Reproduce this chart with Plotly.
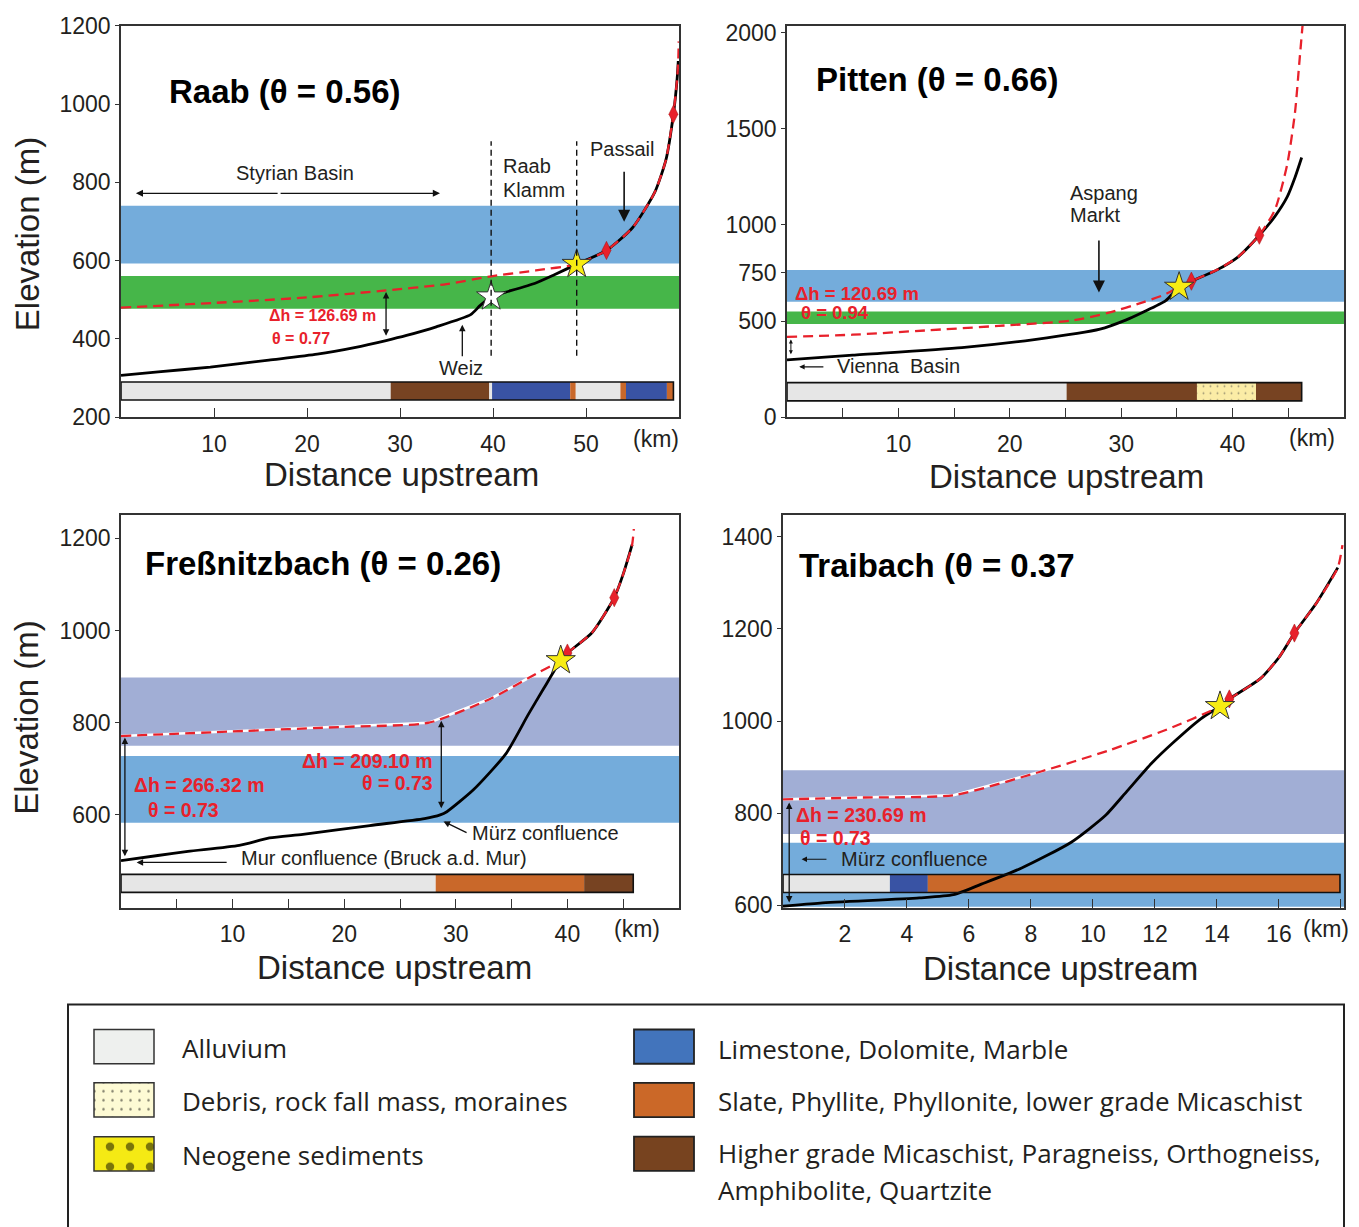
import plotly.graph_objects as go

W, H = 1359, 1227

# ---------------- Raab ----------------
RAAB_KM = [0, 4, 9.6, 15.9, 21.1, 25.1, 28.5, 30.7, 33.9, 37.6, 38.6, 39.8, 41, 44.6, 46.6, 49, 52.2, 55, 57.4, 58.6, 59.4, 59.8, 59.92]
RAAB_ELEV = [307, 316, 328, 346, 361, 378, 396, 409, 431, 462, 485, 508, 517, 543, 564, 591, 626, 684, 775, 858, 974, 1065, 1110]
RAAB_PROJ_KM = [0, 10, 20, 28.5, 34.7, 39.8, 44.6, 49]
RAAB_PROJ_ELEV = [480, 492, 506, 524, 539, 560, 575, 591]
RAAB_TOP_KM = [59.97]
RAAB_TOP_ELEV = [1160]
RAAB_STAR = [49, 591]
RAAB_WHITE_STAR = [39.8, 508]
RAAB_DIAMOND_KM = [52.2, 59.4]
RAAB_DIAMOND_ELEV = [626, 974]
RAAB_BANDS = [[593, 740, "#74acdb"], [477, 561, "#46b649"]]
RAAB_LITHO_START = [0, 29, 39.6, 39.9, 48.3, 48.9, 53.7, 54.3, 58.7]
RAAB_LITHO_END = [29, 39.6, 39.9, 48.3, 48.9, 53.7, 54.3, 58.7, 59.4]
RAAB_LITHO_TYPE = ["alluvium", "higher", "alluvium", "limestone", "slate", "alluvium", "slate", "limestone", "slate"]
RAAB_LITHO_Y = [244, 290]

# ---------------- Pitten ----------------
PITTEN_KM = [0, 5.9, 15.7, 22.2, 28.1, 30.4, 32, 34, 35.2, 36.3, 38.6, 40.5, 42.4, 43.8, 44.9, 45.6, 46.2]
PITTEN_ELEV = [298, 323, 362, 404, 458, 505, 547, 606, 677, 707, 766, 834, 946, 1044, 1145, 1246, 1350]
PITTEN_PROJ_KM = [0, 5.9, 12.4, 19, 25.5, 28.8, 32, 34, 35.2]
PITTEN_PROJ_ELEV = [418, 429, 451, 475, 502, 542, 598, 640, 677]
PITTEN_TOP_KM = [43.8, 44.9, 45.6, 46.0, 46.3]
PITTEN_TOP_ELEV = [1078, 1313, 1583, 1850, 2050]
PITTEN_STAR = [35.2, 677]
PITTEN_DIAMOND_KM = [36.3, 42.4]
PITTEN_DIAMOND_ELEV = [707, 946]
PITTEN_BANDS = [[600, 765, "#74acdb"], [485, 550, "#46b649"]]
PITTEN_LITHO_START = [0, 25.1, 36.8, 42.1]
PITTEN_LITHO_END = [25.1, 36.8, 42.1, 46.2]
PITTEN_LITHO_TYPE = ["alluvium", "higher", "debris", "higher"]
PITTEN_LITHO_Y = [85, 180]

# ---------------- Fressnitzbach ----------------
FRESS_KM = [0, 3.3, 6, 10.6, 13.3, 16.3, 22.3, 27.2, 28.6, 29.2, 31.6, 34.5, 36.5, 37.9, 39.4, 40, 42.2, 44.2, 45, 45.8]
FRESS_ELEV = [501, 512, 521, 534, 550, 558, 577, 592, 600, 607, 655, 733, 818, 875, 935, 951, 995, 1071, 1122, 1186]
FRESS_PROJ_KM = [0, 10, 20, 27.6, 33.2, 37.5, 39.4]
FRESS_PROJ_ELEV = [771, 781, 791, 800, 853, 910, 935]
FRESS_TOP_KM = [45.95]
FRESS_TOP_ELEV = [1220]
FRESS_STAR = [39.4, 935]
FRESS_DIAMOND_KM = [40, 44.2]
FRESS_DIAMOND_ELEV = [951, 1071]
FRESS_BANDS = [[750, 898, "#a1aed5"], [583, 728, "#74acdb"]]
FRESS_LITHO_START = [0, 28.2, 41.5]
FRESS_LITHO_END = [28.2, 41.5, 45.9]
FRESS_LITHO_TYPE = ["alluvium", "slate", "higher"]
FRESS_LITHO_Y = [432, 471]

# ---------------- Traibach ----------------
TRAI_KM = [0, 1.2, 4.4, 5.5, 6.4, 7.7, 9.3, 10.4, 11.1, 11.9, 12.6, 13.5, 14.1, 14.4, 15.4, 16, 16.5, 17.2, 17.9]
TRAI_ELEV = [598, 605, 616, 623, 646, 681, 737, 795, 848, 909, 954, 1006, 1032, 1048, 1092, 1138, 1191, 1255, 1333]
TRAI_PROJ_KM = [0, 2.5, 5.5, 8.3, 10.5, 12.4, 14.1]
TRAI_PROJ_ELEV = [830, 834, 839, 890, 936, 982, 1032]
TRAI_TOP_KM = [18.05]
TRAI_TOP_ELEV = [1382]
TRAI_STAR = [14.1, 1032]
TRAI_DIAMOND_KM = [14.4, 16.5]
TRAI_DIAMOND_ELEV = [1048, 1191]
TRAI_BANDS = [[755, 893, "#a1aed5"], [597, 736, "#74acdb"]]
TRAI_LITHO_START = [0, 3.45, 4.67]
TRAI_LITHO_END = [3.45, 4.67, 17.97]
TRAI_LITHO_TYPE = ["alluvium", "limestone", "slate"]
TRAI_LITHO_Y = [628, 667]

# ---------------- legend ----------------
LEGEND_LEFT = ["Alluvium", "Debris, rock fall mass, moraines", "Neogene sediments"]
LEGEND_RIGHT = ["Limestone, Dolomite, Marble", "Slate, Phyllite, Phyllonite, lower grade Micaschist",
                "Higher grade Micaschist, Paragneiss, Orthogneiss,", "Amphibolite, Quartzite"]

LITHO_COLORS = {"alluvium": "#e6e6e6", "higher": "#774322", "limestone": "#3953a4",
                "slate": "#c9682a", "debris": "#fbeca6"}

SANS = "Liberation Sans, Arial, Helvetica, sans-serif"
REDFONT = "Liberation Sans, Arial, sans-serif"
LEGFONT = "Open Sans, Noto Sans, sans-serif"
RED = "#e8212b"
TXT = "#231f20"

fig = go.Figure()


def refs(i):
    return ("x" if i == 1 else f"x{i}"), ("y" if i == 1 else f"y{i}")


def add_text(i, x, y, text, size=20, color=TXT, xanchor="center", family=SANS):
    xr, yr = refs(i)
    fig.add_annotation(x=x, y=y, xref=xr, yref=yr, text=text, showarrow=False,
                       xanchor=xanchor, yanchor="middle",
                       font=dict(family=family, size=size, color=color))


def add_arrow(i, x0, y0, x1, y1, both=False, head=2, size=1.0, width=1.3):
    xr, yr = refs(i)
    fig.add_annotation(x=x1, y=y1, ax=x0, ay=y0, xref=xr, yref=yr, axref=xr, ayref=yr,
                       text="", showarrow=True, arrowhead=head, arrowsize=size,
                       arrowwidth=width, arrowcolor="#111",
                       arrowside="end+start" if both else "end")


def panel(i, km, elev, pkm, pel, tkm, tel, star, dkm, del_, bands, ls, le, lt, ly,
          join_km, white=False):
    xr, yr = refs(i)
    for lo, hi, col in bands:
        fig.add_shape(type="rect", xref=f"{xr} domain", yref=yr, x0=0, x1=1, y0=lo, y1=hi,
                      fillcolor=col, line_width=0, layer="below")
    # lithology bar
    fig.add_trace(go.Bar(orientation="h", y=[(ly[0] + ly[1]) / 2] * len(ls),
                         x=[e - s for s, e in zip(ls, le)], base=ls,
                         width=[ly[1] - ly[0]] * len(ls),
                         marker=dict(color=[LITHO_COLORS[t] for t in lt], line_width=0,
                                     pattern=dict(shape=["." if t == "debris" else "" for t in lt],
                                                  fgcolor="#333", size=7, solidity=0.06,
                                                  fillmode="overlay")),
                         xaxis=xr, yaxis=yr, hoverinfo="skip", showlegend=False))
    fig.add_shape(type="rect", xref=xr, yref=yr, x0=min(ls), x1=max(le), y0=ly[0], y1=ly[1],
                  line=dict(color="#111", width=1.6), fillcolor="rgba(0,0,0,0)")
    # projected profile
    rx = list(pkm) + [k for k in km if star[0] < k <= join_km] + list(tkm)
    ry = list(pel) + [e for k, e in zip(km, elev) if star[0] < k <= join_km] + list(tel)
    if white:
        fig.add_trace(go.Scatter(x=pkm, y=pel, mode="lines", line=dict(color="white", width=2.6),
                                 xaxis=xr, yaxis=yr, hoverinfo="skip", showlegend=False))
    fig.add_trace(go.Scatter(x=km, y=elev, mode="lines",
                             line=dict(color="black", width=2.8, shape="spline", smoothing=0.6),
                             xaxis=xr, yaxis=yr, hoverinfo="skip", showlegend=False))
    fig.add_trace(go.Scatter(x=rx, y=ry, mode="lines",
                             line=dict(color=RED, width=2.3, dash="10px,6px", shape="spline", smoothing=0.6),
                             xaxis=xr, yaxis=yr, hoverinfo="skip", showlegend=False))
    fig.add_trace(go.Scatter(x=dkm, y=del_, mode="markers",
                             marker=dict(symbol="diamond-tall", size=13, color=RED,
                                         line=dict(color="#a01010", width=0.5)),
                             xaxis=xr, yaxis=yr, hoverinfo="skip", showlegend=False))
    fig.add_trace(go.Scatter(x=[star[0]], y=[star[1]], mode="markers",
                             marker=dict(symbol="star", size=22, color="#f7ec13",
                                         line=dict(color="#333", width=1)),
                             xaxis=xr, yaxis=yr, hoverinfo="skip", showlegend=False))


panel(1, RAAB_KM, RAAB_ELEV, RAAB_PROJ_KM, RAAB_PROJ_ELEV, RAAB_TOP_KM, RAAB_TOP_ELEV, RAAB_STAR,
      RAAB_DIAMOND_KM, RAAB_DIAMOND_ELEV, RAAB_BANDS, RAAB_LITHO_START, RAAB_LITHO_END,
      RAAB_LITHO_TYPE, RAAB_LITHO_Y, 60)
fig.add_trace(go.Scatter(x=[RAAB_WHITE_STAR[0]], y=[RAAB_WHITE_STAR[1]], mode="markers",
                         marker=dict(symbol="star", size=22, color="white", line=dict(color="#333", width=1)),
                         xaxis="x", yaxis="y", hoverinfo="skip", showlegend=False))
panel(2, PITTEN_KM, PITTEN_ELEV, PITTEN_PROJ_KM, PITTEN_PROJ_ELEV, PITTEN_TOP_KM, PITTEN_TOP_ELEV,
      PITTEN_STAR, PITTEN_DIAMOND_KM, PITTEN_DIAMOND_ELEV, PITTEN_BANDS, PITTEN_LITHO_START,
      PITTEN_LITHO_END, PITTEN_LITHO_TYPE, PITTEN_LITHO_Y, 42.4)
panel(3, FRESS_KM, FRESS_ELEV, FRESS_PROJ_KM, FRESS_PROJ_ELEV, FRESS_TOP_KM, FRESS_TOP_ELEV,
      FRESS_STAR, FRESS_DIAMOND_KM, FRESS_DIAMOND_ELEV, FRESS_BANDS, FRESS_LITHO_START,
      FRESS_LITHO_END, FRESS_LITHO_TYPE, FRESS_LITHO_Y, 50, white=True)
panel(4, TRAI_KM, TRAI_ELEV, TRAI_PROJ_KM, TRAI_PROJ_ELEV, TRAI_TOP_KM, TRAI_TOP_ELEV,
      TRAI_STAR, TRAI_DIAMOND_KM, TRAI_DIAMOND_ELEV, TRAI_BANDS, TRAI_LITHO_START,
      TRAI_LITHO_END, TRAI_LITHO_TYPE, TRAI_LITHO_Y, 20, white=True)

# ---------------- Raab annotations ----------------
add_text(1, 4.9, 1031, "<b>Raab (θ = 0.56)</b>", size=33, color="black", xanchor="left")
add_text(1, 18.7, 823, "Styrian Basin")
add_arrow(1, 17, 772, 1.6, 772, head=2, size=1.1)
add_arrow(1, 17, 772, 34.3, 772, head=2, size=1.1)
add_text(1, 40.9, 841, "Raab", xanchor="left")
add_text(1, 40.9, 781, "Klamm", xanchor="left")
add_text(1, 53.9, 885, "Passail")
add_arrow(1, 54.1, 831, 54.1, 699, head=2, size=1.5, width=1.6)
add_text(1, 36.6, 325, "Weiz")
add_arrow(1, 36.7, 352, 36.7, 436, head=2, size=1.0)
for xv in [39.8, 49]:
    fig.add_shape(type="line", xref="x", yref="y", x0=xv, x1=xv, y0=357, y1=905,
                  line=dict(color="#111", width=1.4, dash="6px,4px"))
add_arrow(1, 28.5, 404, 28.5, 520, both=True, head=2, size=1.0)
add_text(1, 27.6, 461, "<b>Δh = 126.69 m</b>", size=16, color=RED, xanchor="right", family=REDFONT)
add_text(1, 16.0, 402, "<b>θ = 0.77</b>", size=16, color=RED, xanchor="left", family=REDFONT)

# ---------------- Pitten annotations ----------------
add_text(2, 2.4, 1754, "<b>Pitten (θ = 0.66)</b>", size=33, color="black", xanchor="left")
add_text(2, 25.2, 1166, "Aspang", xanchor="left")
add_text(2, 25.2, 1049, "Markt", xanchor="left")
add_arrow(2, 28.0, 926, 28.0, 648, head=2, size=1.5, width=1.6)
add_text(2, 0.5, 645, "<b>Δh = 120.69 m</b>", size=18.5, color=RED, xanchor="left", family=REDFONT)
add_text(2, 1.1, 542, "<b>θ = 0.94</b>", size=18.5, color=RED, xanchor="left", family=REDFONT)
add_arrow(2, 0.35, 320, 0.35, 404, both=True, head=2, size=0.8, width=1.0)
add_arrow(2, 3.4, 262, 1.1, 262, head=2, size=0.9, width=1.2)
add_text(2, 4.3, 265, "Vienna  Basin", xanchor="left")

# ---------------- Fressnitzbach annotations ----------------
add_text(3, 2.0, 1146, "<b>Freßnitzbach (θ = 0.26)</b>", size=33, color="black", xanchor="left")
add_text(3, 28.1, 716, "<b>Δh = 209.10 m</b>", size=19.5, color=RED, xanchor="right", family=REDFONT)
add_text(3, 28.1, 669, "<b>θ = 0.73</b>", size=19.5, color=RED, xanchor="right", family=REDFONT)
add_arrow(3, 28.7, 611, 28.7, 804, both=True, head=2, size=1.0)
add_text(3, 1.0, 665, "<b>Δh = 266.32 m</b>", size=19.5, color=RED, xanchor="left", family=REDFONT)
add_text(3, 2.2, 610, "<b>θ = 0.73</b>", size=19.5, color=RED, xanchor="left", family=REDFONT)
add_arrow(3, 0.35, 507, 0.35, 768, both=True, head=2, size=1.0)
add_text(3, 31.3, 561, "Mürz confluence", xanchor="left")
add_arrow(3, 31.1, 560, 28.9, 586, head=2, size=1.0)
add_text(3, 10.6, 506, "Mur confluence (Bruck a.d. Mur)", xanchor="left")
add_arrow(3, 9.6, 497, 1.4, 497, head=2, size=1.0)

# ---------------- Traibach annotations ----------------
add_text(4, 0.45, 1338, "<b>Traibach (θ = 0.37</b>", size=33, color="black", xanchor="left")
add_text(4, 0.35, 796, "<b>Δh = 230.69 m</b>", size=19.5, color=RED, xanchor="left", family=REDFONT)
add_text(4, 0.5, 747, "<b>θ = 0.73</b>", size=19.5, color=RED, xanchor="left", family=REDFONT)
add_arrow(4, 0.2, 603, 0.2, 823, both=True, head=2, size=1.0)
add_arrow(4, 1.45, 700, 0.6, 700, head=2, size=0.9, width=1.2)
add_text(4, 1.8, 700, "Mürz confluence", xanchor="left")

# ---------------- axis titles / (km) ----------------
for xp, yp in [(401, 472), (1066, 474), (394, 975), (1060, 976)]:
    fig.add_annotation(x=xp / W, y=1 - yp / H, xref="paper", yref="paper", text="Distance upstream",
                       showarrow=False, xanchor="center", yanchor="middle",
                       font=dict(family=SANS, size=33, color=TXT))
for yp in [226, 720]:
    fig.add_annotation(x=27 / W, y=1 - yp / H, xref="paper", yref="paper", text="Elevation (m)",
                       showarrow=False, textangle=-90, xanchor="center", yanchor="middle",
                       font=dict(family=SANS, size=33, color=TXT))
for xp, yp in [(656, 435), (1312, 434), (637, 936), (1326, 936)]:
    fig.add_annotation(x=xp / W, y=1 - yp / H, xref="paper", yref="paper", text="(km)",
                       showarrow=False, xanchor="center", yanchor="middle",
                       font=dict(family=SANS, size=23, color=TXT))

# ---------------- legend ----------------
fig.add_shape(type="rect", xref="paper", yref="paper", x0=68 / W, x1=1344 / W, y0=-0.02,
              y1=1 - 1013 / H, line=dict(color="#222", width=2), fillcolor="rgba(0,0,0,0)")
LEG_ROWS = [1056, 1110.5, 1165.5]
LEG_LEFT_COLORS = ["#eef0ee", "#fdfad4", "#f5ea14"]
LEG_RIGHT_COLORS = ["#4274bc", "#cb6828", "#77431f"]
LEG_LEFT_PAT = [("", 8, 0.1), (".", 9, 0.06), (".", 20, 0.14)]
for j, yc in enumerate(LEG_ROWS):
    shp, sz, sol = LEG_LEFT_PAT[j]
    fig.add_trace(go.Bar(orientation="h", y=[yc], x=[60], base=[94], width=[35],
                         marker=dict(color=LEG_LEFT_COLORS[j], line=dict(color="#333", width=1.5),
                                     pattern=dict(shape=shp, fgcolor="black", size=sz, solidity=sol,
                                                  fillmode="overlay")),
                         xaxis="x5", yaxis="y5", hoverinfo="skip", showlegend=False))
    fig.add_trace(go.Bar(orientation="h", y=[yc], x=[60], base=[634], width=[35],
                         marker=dict(color=LEG_RIGHT_COLORS[j], line=dict(color="#222", width=1.8)),
                         xaxis="x5", yaxis="y5", hoverinfo="skip", showlegend=False))
    fig.add_annotation(x=180, y=yc + 1, xref="x5", yref="y5", text=LEGEND_LEFT[j], showarrow=False,
                       xanchor="left", yanchor="middle", font=dict(family=LEGFONT, size=26, color=TXT))
for j, yc in enumerate([1058, 1112, 1165, 1202]):
    fig.add_annotation(x=716, y=yc, xref="x5", yref="y5", text=LEGEND_RIGHT[j], showarrow=False,
                       xanchor="left", yanchor="middle", font=dict(family=LEGFONT, size=26, color=TXT))


# ---------------- axes ----------------
def xcfg(d0, d1, rng, tv, tt, anchor):
    return dict(domain=[d0 / W, d1 / W], range=rng, anchor=anchor, tickmode="array", tickvals=tv,
                ticktext=tt, ticks="inside", ticklen=9, tickwidth=1.2, tickcolor="#333",
                showline=True, linecolor="#333", linewidth=1.6, mirror=True, showgrid=False,
                zeroline=False, tickfont=dict(family=SANS, size=23, color=TXT), ticklabelstandoff=5,
                fixedrange=True)


def ycfg(top, bot, rng, tv, anchor):
    return dict(domain=[1 - bot / H, 1 - top / H], range=rng, anchor=anchor, tickmode="array",
                tickvals=tv, ticks="outside", ticklen=4, tickwidth=1.2, tickcolor="#333",
                showline=True, linecolor="#333", linewidth=1.6, mirror=True, showgrid=False,
                zeroline=False, tickfont=dict(family=SANS, size=23, color=TXT), fixedrange=True)


fig.update_layout(
    width=W, height=H, margin=dict(l=0, r=0, t=0, b=0), paper_bgcolor="white",
    plot_bgcolor="white", barmode="overlay", showlegend=False,
    xaxis=xcfg(121, 679, [0, 60], [10, 20, 30, 40, 50], ["10", "20", "30", "40", "50"], "y"),
    yaxis=ycfg(13, 413, [200, 1200], [200, 400, 600, 800, 1000, 1200], "x"),
    xaxis2=xcfg(787, 1344, [0, 50], [5, 10, 15, 20, 25, 30, 35, 40, 45],
                ["", "10", "", "20", "", "30", "", "40", ""], "y2"),
    yaxis2=ycfg(13, 413, [0, 2035], [0, 500, 750, 1000, 1500, 2000], "x2"),
    xaxis3=xcfg(121, 679, [0, 50], [5, 10, 15, 20, 25, 30, 35, 40, 45],
                ["", "10", "", "20", "", "30", "", "40", ""], "y3"),
    yaxis3=ycfg(513, 914, [399, 1250], [600, 800, 1000, 1200], "x3"),
    xaxis4=xcfg(783, 1344, [0, 18.1], [2, 4, 6, 8, 10, 12, 14, 16, 18],
                ["2", "4", "6", "8", "10", "12", "14", "16", ""], "y4"),
    yaxis4=ycfg(513, 914, [595, 1447], [600, 800, 1000, 1200, 1400], "x4"),
    xaxis5=dict(domain=[0, 1], range=[0, W], visible=False, anchor="y5", fixedrange=True),
    yaxis5=dict(domain=[0, 1 - 1005 / H], range=[H, 1005], visible=False, anchor="x5", fixedrange=True),
)

fig.write_html("out.html")
